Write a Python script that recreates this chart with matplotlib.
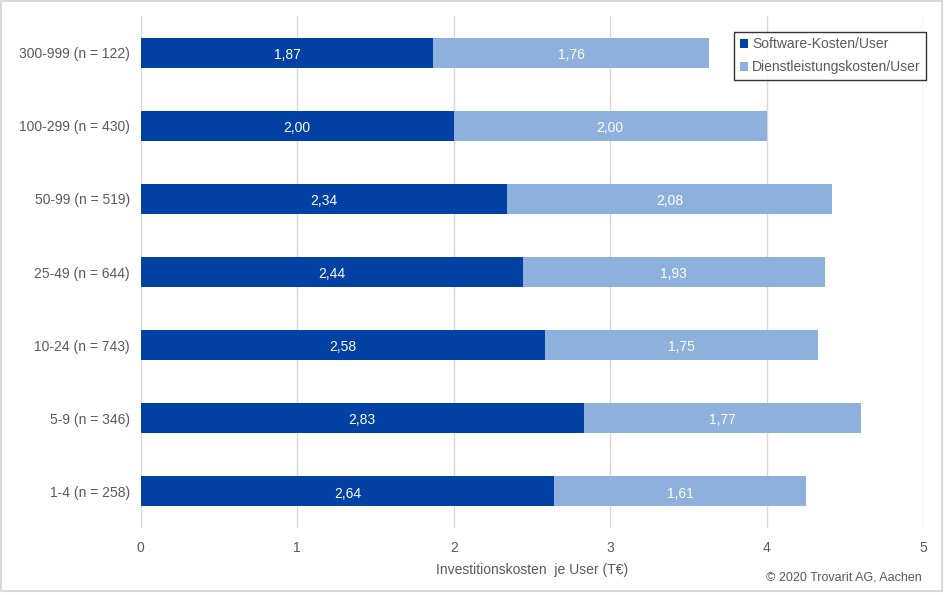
import numpy as np
import matplotlib.pyplot as plt
from matplotlib.patches import Rectangle

plt.rcParams['font.family'] = ['Liberation Sans', 'DejaVu Sans']

# Daten
kategorien = ['1-4 (n = 258)', '5-9 (n = 346)', '10-24 (n = 743)', '25-49 (n = 644)',
              '50-99 (n = 519)', '100-299 (n = 430)', '300-999 (n = 122)']
software = [2.64, 2.83, 2.58, 2.44, 2.34, 2.00, 1.87]
dienstleistung = [1.61, 1.77, 1.75, 1.93, 2.08, 2.00, 1.76]

dunkel = '#0041A3'
hell = '#8EB0DC'
grau = '#595959'

fig = plt.figure(figsize=(9.45, 5.95), dpi=100)
ax = fig.add_axes([0.149, 0.1126, 0.828, 0.8604])

y = np.arange(len(kategorien))
ax.barh(y, software, height=0.41, color=dunkel, label='Software-Kosten/User', zorder=3)
ax.barh(y, dienstleistung, left=software, height=0.41, color=hell,
        label='Dienstleistungskosten/User', zorder=3)

# Werte in die Balken schreiben
for i in range(len(kategorien)):
    ax.text(software[i] / 2, y[i] - 0.03, f'{software[i]:.2f}'.replace('.', ','),
            ha='center', va='center', color='white', fontsize=10, zorder=4)
    ax.text(software[i] + dienstleistung[i] / 2, y[i] - 0.03,
            f'{dienstleistung[i]:.2f}'.replace('.', ','),
            ha='center', va='center', color='white', fontsize=10, zorder=4)

ax.set_xlim(0, 5)
ax.set_ylim(-0.5, len(kategorien) - 0.5)
ax.set_yticks(y)
ax.set_yticklabels(kategorien)
ax.set_xticks(range(6))
ax.tick_params(length=0, labelsize=10, colors=grau, pad=8)
ax.tick_params(axis='x', pad=9)
ax.grid(axis='x', color='#D9D9D9', linewidth=1, zorder=0)
for s in ax.spines.values():
    s.set_visible(False)

ax.set_xlabel('Investitionskosten  je User (T€)', color=grau, fontsize=10, labelpad=6)

leg = ax.legend(loc='upper right', bbox_to_anchor=(1.013, 0.983), fontsize=10,
                frameon=True, fancybox=False, handlelength=0.6, handleheight=0.6,
                handletextpad=0.3, borderpad=0.4, labelspacing=0.65, labelcolor=grau)
leg.get_frame().set_edgecolor('black')
leg.get_frame().set_linewidth(1)

fig.text(0.975, 0.03, '© 2020 Trovarit AG, Aachen', ha='right', va='center',
         color=grau, fontsize=9)

# Rahmen um die Grafik
fig.patches.append(Rectangle((0.001, 0.006), 0.996, 0.992, transform=fig.transFigure,
                             fill=False, edgecolor='#D9D9D9', linewidth=1.5))

fig.savefig('out.png', dpi=100)
